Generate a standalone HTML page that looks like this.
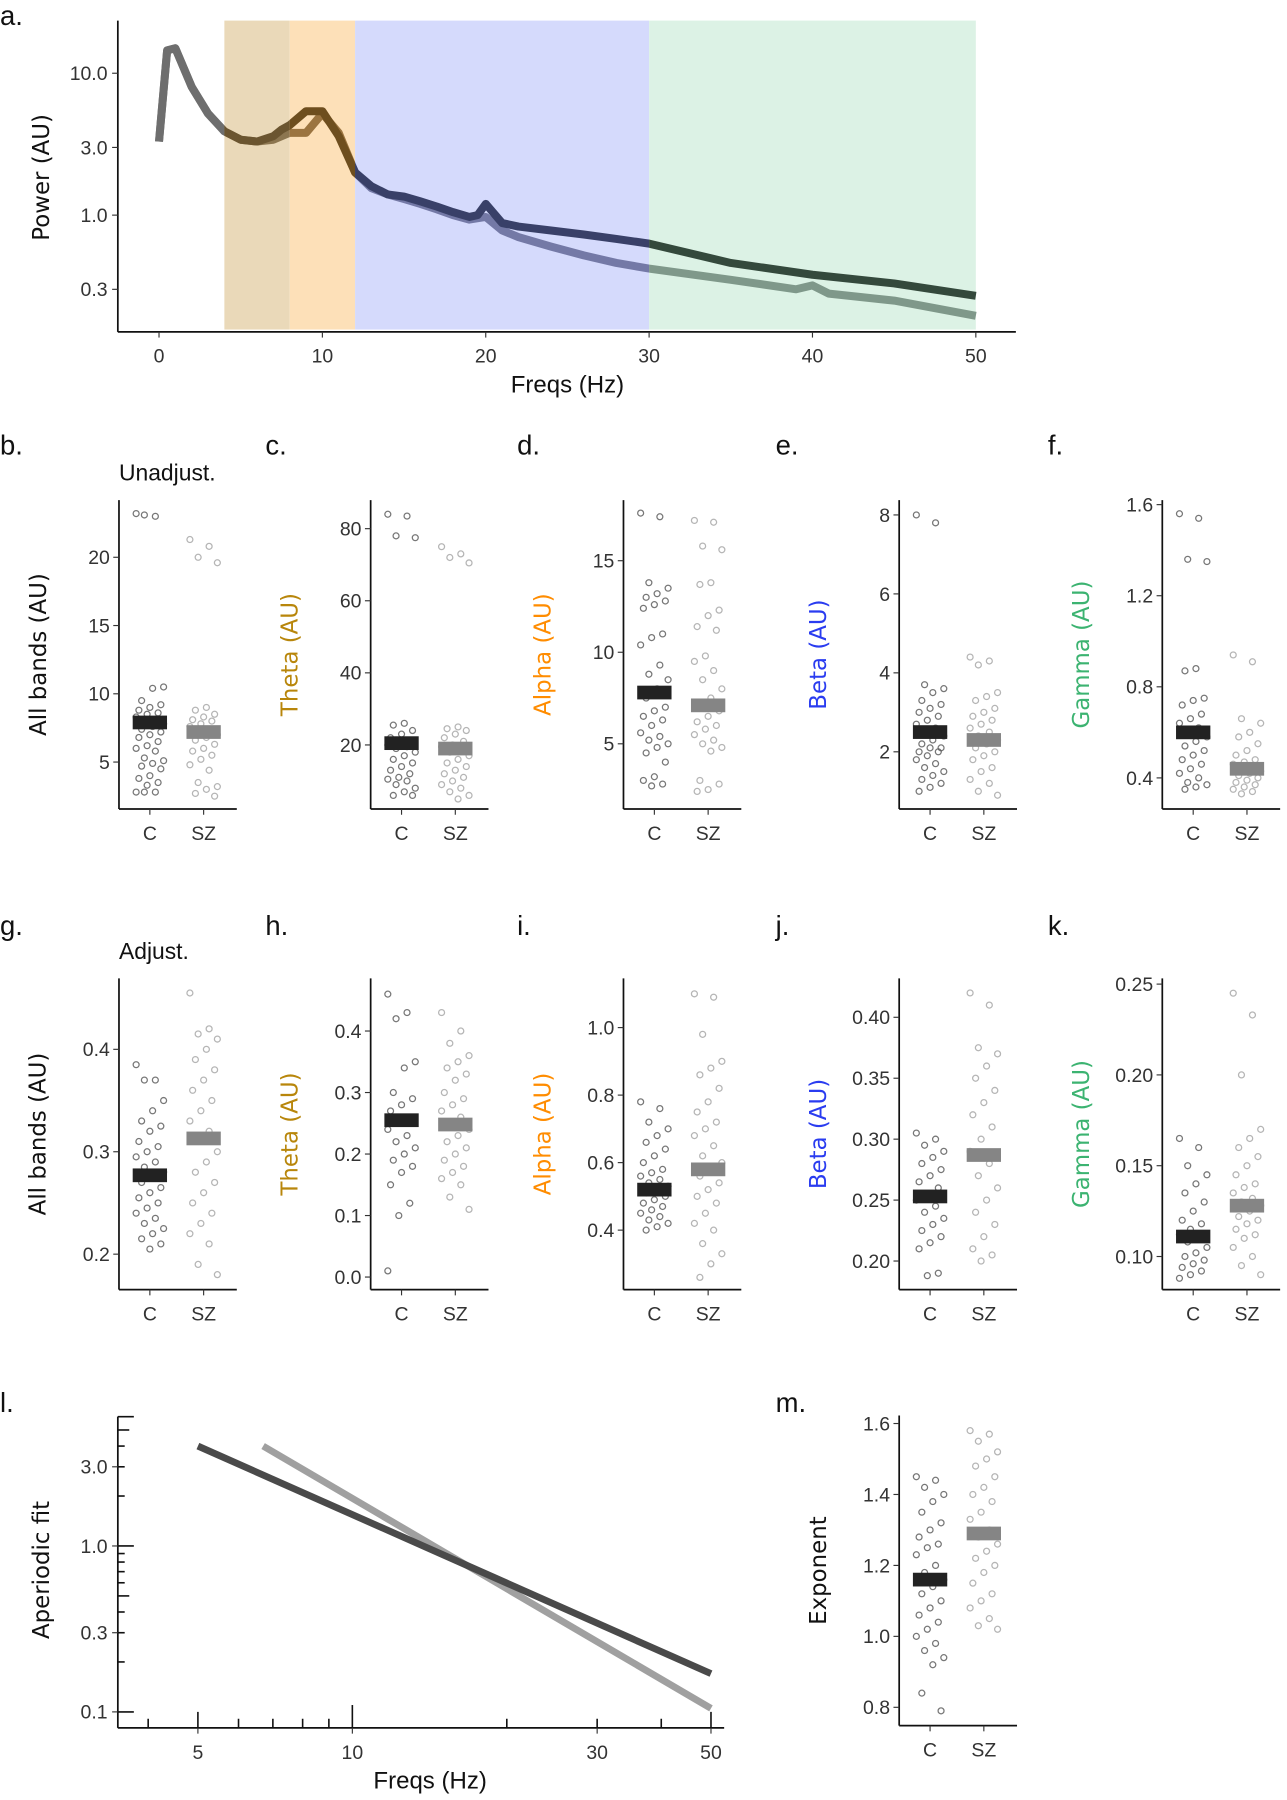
<!DOCTYPE html>
<html><head><meta charset="utf-8"><style>
html,body{margin:0;padding:0;background:#fff;}
svg{display:block;font-family:"Liberation Sans",sans-serif;}
</style></head><body>
<svg id="fig" width="1287" height="1800" viewBox="0 0 1125 1573" preserveAspectRatio="none" xmlns="http://www.w3.org/2000/svg"></svg>
<script>
// ---------- Panel a data ----------
const freqsC = [0,0.5,1,2,3,4,5,6,7,7.5,8,9,10,11,12,13,14,15,16,17,18,19,19.5,20,21,22,24,26,28,30,35,40,45,50];
const powerC = [3.3,14.5,15,8,5.2,3.9,3.4,3.3,3.6,4.0,4.3,5.4,5.4,3.6,2.0,1.6,1.4,1.35,1.25,1.15,1.05,0.97,1.0,1.2,0.88,0.83,0.78,0.73,0.68,0.63,0.46,0.38,0.33,0.27];
const freqsSZ = [0,0.5,1,2,3,4,5,6,7,8,9,10,11,12,13,14,15,16,17,18,19,20,21,22,24,26,28,30,35,39,40,41,45,50];
const powerSZ = [3.3,14.5,15,8,5.2,3.9,3.4,3.3,3.4,3.8,3.8,5.2,3.8,2.0,1.55,1.4,1.3,1.2,1.1,1.0,0.93,0.97,0.78,0.7,0.6,0.52,0.46,0.42,0.35,0.3,0.32,0.28,0.25,0.195];
const bandNames = ['theta','alpha','beta','gamma'];
const bandLo = [4,8,12,30];
const bandHi = [8,12,30,50];
const aYTicks = [10,3,1,0.3];
const aYTickLabels = ['10.0','3.0','1.0','0.3'];
const aXTicks = [0,10,20,30,40,50];

// ---------- Scatter panels data ----------
const groups = ['C','SZ'];
const bC=[23.2,23,23.1,10.5,10.4,9.5,9.2,9,8.8,8.6,8.5,8.3,8.1,8,7.8,7.6,7.4,7.2,7,6.8,6.5,6.2,6,5.8,5.3,5.1,4.9,4.7,4.5,4,3.8,3.5,3.3,2.8,2.8,2.8];
const bSZ=[21.3,20.8,20,19.6,9,8.8,8.5,8.3,8.1,8,7.8,7.6,7.4,7.2,7,6.8,6.6,6.3,6,5.8,5.5,5.2,4.8,4.4,3.5,3.2,3,2.7,2.5];
const cC=[84,83.5,78,77.5,26,25.5,24,23,22,21,20.5,20,19.5,19,18,17,16,15,14,13,12,11,10.5,10,9,8,7,6,6];
const cSZ=[75,73,72,70.5,25,24.5,24,23,22,21,20,19.5,19,18,17,16,15,14,13,12,11,10,9,8,7,6,5];
const dC=[17.6,17.4,13.8,13.5,13.2,13,12.8,12.6,12.4,11,10.8,10.4,9.3,8.8,8.5,8,7.5,7,6.8,6.5,6.3,6,5.6,5.4,5.2,5,4.8,4.5,4,3.2,3,2.8,2.7];
const dSZ=[17.2,17.1,15.8,15.6,13.8,13.7,12.3,12,11.4,11.2,9.8,9.5,9,8.5,8,7.5,7,6.8,6.5,6.2,6,5.8,5.5,5.2,5,4.8,4.6,3,2.8,2.5,2.4];
const eC=[8,7.8,3.7,3.6,3.5,3.3,3.2,3.1,3,2.9,2.8,2.7,2.6,2.5,2.4,2.3,2.2,2.1,2.1,2,2,1.9,1.8,1.7,1.6,1.5,1.4,1.3,1.2,1.1,1.0];
const eSZ=[4.4,4.3,4.2,3.5,3.4,3.3,3.1,3,2.9,2.8,2.7,2.6,2.5,2.4,2.3,2.2,2.1,2,1.9,1.8,1.6,1.5,1.3,1.2,1.0,0.9];
const fC=[1.56,1.54,1.36,1.35,0.88,0.87,0.75,0.74,0.72,0.68,0.66,0.64,0.62,0.6,0.58,0.56,0.54,0.52,0.5,0.48,0.46,0.44,0.42,0.4,0.38,0.37,0.36,0.35];
const fSZ=[0.94,0.91,0.66,0.64,0.6,0.58,0.55,0.52,0.5,0.48,0.47,0.46,0.45,0.44,0.43,0.42,0.41,0.4,0.39,0.38,0.37,0.36,0.35,0.34,0.33];
const gC=[.385,.37,.37,.35,.34,.33,.325,.32,.31,.305,.3,.295,.29,.285,.28,.275,.27,.265,.26,.255,.25,.245,.24,.235,.23,.225,.22,.215,.21,.205];
const gSZ=[.455,.42,.415,.41,.4,.39,.38,.37,.36,.35,.34,.33,.32,.31,.3,.29,.28,.27,.26,.25,.24,.23,.22,.21,.19,.18];
const hC=[.46,.43,.42,.35,.34,.3,.29,.28,.27,.26,.25,.24,.23,.22,.21,.2,.19,.18,.17,.15,.12,.1,.01];
const hSZ=[.43,.4,.38,.36,.35,.34,.33,.32,.3,.29,.28,.27,.26,.25,.24,.23,.22,.21,.2,.19,.18,.17,.16,.15,.13,.11];
const iC=[.78,.76,.72,.7,.68,.66,.64,.62,.6,.58,.57,.56,.55,.54,.53,.52,.51,.5,.49,.48,.47,.46,.45,.44,.43,.42,.41,.4];
const iSZ=[1.1,1.09,.98,.9,.88,.86,.82,.78,.75,.72,.7,.68,.65,.62,.6,.58,.56,.54,.52,.5,.48,.45,.42,.4,.36,.33,.3,.26];
const jC=[.305,.3,.295,.29,.285,.28,.275,.27,.265,.26,.255,.25,.245,.24,.235,.23,.225,.22,.215,.21,.19,.188];
const jSZ=[.42,.41,.375,.37,.36,.35,.34,.33,.32,.31,.3,.29,.28,.27,.26,.25,.24,.23,.22,.21,.205,.2];
const kC=[.165,.16,.15,.145,.14,.135,.13,.125,.12,.118,.115,.112,.11,.108,.105,.102,.1,.098,.096,.094,.092,.09,.088];
const kSZ=[.245,.233,.2,.17,.165,.16,.155,.15,.145,.14,.138,.135,.132,.13,.128,.125,.122,.12,.118,.115,.112,.11,.105,.1,.095,.09];
const mC=[1.45,1.44,1.42,1.4,1.38,1.35,1.32,1.3,1.28,1.26,1.25,1.23,1.2,1.18,1.16,1.14,1.12,1.1,1.08,1.06,1.04,1.02,1.0,.98,.96,.94,.92,.84,.79];
const mSZ=[1.58,1.57,1.55,1.52,1.5,1.48,1.45,1.42,1.4,1.38,1.35,1.33,1.3,1.28,1.26,1.24,1.22,1.2,1.18,1.15,1.12,1.1,1.08,1.05,1.03,1.02];
const meansB=[7.9,7.2], meansC=[20.5,19], meansD=[7.8,7.1], meansE=[2.5,2.3], meansF=[0.6,0.44];
const meansG=[.277,.313], meansH=[.255,.248], meansI=[.52,.58], meansJ=[.253,.287], meansK=[.111,.128], meansM=[1.16,1.29];
const ticksB=[5,10,15,20], ticksC=[20,40,60,80], ticksD=[5,10,15], ticksE=[2,4,6,8], ticksF=[0.4,0.8,1.2,1.6];
const ticksG=[0.2,0.3,0.4], ticksH=[0,0.1,0.2,0.3,0.4], ticksI=[0.4,0.6,0.8,1.0], ticksJ=[0.2,0.25,0.3,0.35,0.4], ticksK=[0.1,0.15,0.2,0.25], ticksM=[0.8,1.0,1.2,1.4,1.6];
const labB=['5','10','15','20'], labC=['20','40','60','80'], labD=['5','10','15'], labE=['2','4','6','8'], labF=['0.4','0.8','1.2','1.6'];
const labG=['0.2','0.3','0.4'], labH=['0.0','0.1','0.2','0.3','0.4'], labI=['0.4','0.6','0.8','1.0'], labJ=['0.20','0.25','0.30','0.35','0.40'], labK=['0.10','0.15','0.20','0.25'], labM=['0.8','1.0','1.2','1.4','1.6'];

// ---------- Panel l data ----------
const fitFreqC=[5,50], fitValC=[4.0,0.17];
const fitFreqSZ=[6.7,50], fitValSZ=[4.0,0.105];
const lXTicks=[5,10,30,50], lYTicks=[3,1,0.3,0.1], lYLab=['3.0','1.0','0.3','0.1'];

const NS='http://www.w3.org/2000/svg';
const svg=document.getElementById('fig');
const TITLEFONT='"DejaVu Sans","Liberation Sans",sans-serif';
function el(tag,attrs,parent){const e=document.createElementNS(NS,tag);for(const k in attrs)e.setAttribute(k,attrs[k]);(parent||svg).appendChild(e);return e;}
function txt(s,x,y,size,anchor,fill,rot,parent,font){const t=el('text',{x:x,y:y,'font-size':size,'text-anchor':anchor||'start',fill:fill||'#222'},parent);if(font)t.setAttribute('font-family',font);if(rot)t.setAttribute('transform','rotate(-90 '+x+' '+y+')');t.textContent=s;return t;}

// ---------- Panel a ----------
const ga=el('g',{});


const ax=f=>139+f*14.28, ay=v=>188-124*Math.log10(v);
const bandColors=['#ead9b9','#fde0b8','#d5dafc','#dcf2e5'];
bandNames.forEach((b,i)=>{const r=el('rect',{x:ax(bandLo[i]),y:18,width:ax(bandHi[i])-ax(bandLo[i]),height:270,fill:bandColors[i]},ga);

});
const defs=el('defs',{});
const segLo=[-5,4,8,12,30], segHi=[4,8,12,30,55];
segLo.forEach((lo,i)=>{const cp=el('clipPath',{id:'seg'+i},defs);el('rect',{x:ax(lo),y:0,width:ax(segHi[i])-ax(lo),height:300},cp);});
const colC=['#6e6e6e','#6b5530','#6e4e1e','#394068','#34493c'];
const colSZ=['#7a7a7a','#8c7650','#9b7440','#7479a6','#7f988a'];
function pathOf(fs,vs){return fs.map((f,i)=>(i?'L':'M')+ax(f).toFixed(1)+' '+ay(vs[i]).toFixed(1)).join(' ');}
[[freqsSZ,powerSZ,colSZ,'sz'],[freqsC,powerC,colC,'c']].forEach(([fs,vs,cols,nm])=>{
 segLo.forEach((lo,i)=>{const p=el('path',{d:pathOf(fs,vs),fill:'none',stroke:cols[i],'stroke-width':7,'stroke-linejoin':'round','clip-path':'url(#seg'+i+')'},ga);
 
 });
});
el('line',{x1:103,y1:18,x2:103,y2:290,stroke:'#111','stroke-width':1.5},ga);
el('line',{x1:103,y1:290,x2:888,y2:290,stroke:'#111','stroke-width':1.5},ga);
aYTicks.forEach((v,i)=>{el('line',{x1:98,x2:103,y1:ay(v),y2:ay(v),stroke:'#333'},ga);txt(aYTickLabels[i],94,ay(v)+6,17,'end','#333',0,ga);});
aXTicks.forEach(v=>{el('line',{x1:ax(v),x2:ax(v),y1:290,y2:295,stroke:'#333'},ga);txt(String(v),ax(v),317,17,'middle','#333',0,ga);});
txt('Power (AU)',43,155,20,'middle','#111',1,ga,TITLEFONT);
txt('Freqs (Hz)',496,343,21,'middle','#111',0,ga);
txt('a.',0,22,24,'start','#111',0,ga);

// ---------- Scatter panels ----------
function scatterPanel(name,ox,bottom,top,tickVals,tickLabs,y0val,y0px,pxPerUnit,dataC,dataSZ,means,title,titleColor){
 const g=el('g',{});
 
 
 const sy=v=>y0px-(v-y0val)*pxPerUnit;
 const xs=[ox+27,ox+74];
 [dataC,dataSZ].forEach((arr,gi)=>{
  arr.forEach((v,i)=>{const jit=(((i*7)%11)-5)*2.4;
   const c=el('circle',{cx:xs[gi]+jit,cy:sy(v),r:2.6,fill:'none',stroke:gi?'#a8a8a8':'#555','stroke-width':1.1,opacity:gi?0.85:0.8},g);
   
   });
 });
 means.forEach((m,gi)=>{const r=el('rect',{x:xs[gi]-15,y:sy(m)-6,width:30,height:12,fill:gi?'#858585':'#222'},g);
  
  });
 el('line',{x1:ox,y1:top,x2:ox,y2:bottom,stroke:'#111','stroke-width':1.5},g);
 el('line',{x1:ox,y1:bottom,x2:ox+103,y2:bottom,stroke:'#111','stroke-width':1.5},g);
 tickVals.forEach((v,i)=>{el('line',{x1:ox-5,x2:ox,y1:sy(v),y2:sy(v),stroke:'#333'},g);txt(tickLabs[i],ox-8,sy(v)+6,17,'end','#333',0,g);});
 groups.forEach((gr,i)=>{el('line',{x1:xs[i],x2:xs[i],y1:bottom,y2:bottom+5,stroke:'#333'},g);txt(gr,xs[i],bottom+27,17,'middle','#333',0,g);});
 txt(title,ox-64,(top+bottom)/2,20,'middle',titleColor,1,g,TITLEFONT);
}
const r1b=707,r1t=437,r2b=1127,r2t=855;
scatterPanel('b-all-unadj',104,r1b,r1t,ticksB,labB,20,487,11.93,bC,bSZ,meansB,'All bands (AU)','#111');
scatterPanel('c-theta-unadj',324,r1b,r1t,ticksC,labC,80,462,3.15,cC,cSZ,meansC,'Theta (AU)','#b8860b');
scatterPanel('d-alpha-unadj',545,r1b,r1t,ticksD,labD,15,490,16,dC,dSZ,meansD,'Alpha (AU)','#ff8c00');
scatterPanel('e-beta-unadj',786,r1b,r1t,ticksE,labE,8,450,34.5,eC,eSZ,meansE,'Beta (AU)','#2a3cf0');
scatterPanel('f-gamma-unadj',1016,r1b,r1t,ticksF,labF,1.6,441,199,fC,fSZ,meansF,'Gamma (AU)','#3cb371');
scatterPanel('g-all-adj',104,r2b,r2t,ticksG,labG,0.4,917,895,gC,gSZ,meansG,'All bands (AU)','#111');
scatterPanel('h-theta-adj',324,r2b,r2t,ticksH,labH,0.4,901,537.5,hC,hSZ,meansH,'Theta (AU)','#b8860b');
scatterPanel('i-alpha-adj',545,r2b,r2t,ticksI,labI,1.0,898,295,iC,iSZ,meansI,'Alpha (AU)','#ff8c00');
scatterPanel('j-beta-adj',786,r2b,r2t,ticksJ,labJ,0.4,889,1065,jC,jSZ,meansJ,'Beta (AU)','#2a3cf0');
scatterPanel('k-gamma-adj',1016,r2b,r2t,ticksK,labK,0.25,860,1587,kC,kSZ,meansK,'Gamma (AU)','#3cb371');
scatterPanel('m-exponent',786,1508,1237,ticksM,labM,1.6,1244,310,mC,mSZ,meansM,'Exponent','#111');

const letters=[['b.',0,397],['c.',232,397],['d.',452,397],['e.',678,397],['f.',916,397],['g.',0,817],['h.',232,817],['i.',452,817],['j.',678,817],['k.',916,817],['l.',0,1234],['m.',678,1234]];
letters.forEach(l=>{const t=txt(l[0],l[1],l[2],24,'start','#111');});
txt('Unadjust.',104,420,20,'start','#111');
txt('Adjust.',104,838,20,'start','#111');

// ---------- Panel l ----------
const gl=el('g',{});


const lx=f=>308+448.5*Math.log10(f/10), ly=v=>1351-145*Math.log10(v);
[[fitFreqSZ,fitValSZ,'#a0a0a0','sz'],[fitFreqC,fitValC,'#4a4a4a','c']].forEach(([fs,vs,col,nm])=>{
 const p=el('line',{x1:lx(fs[0]),y1:ly(vs[0]),x2:lx(fs[1]),y2:ly(vs[1]),stroke:col,'stroke-width':6},gl);
 
 
});
el('line',{x1:103,y1:1238,x2:103,y2:1510,stroke:'#111','stroke-width':1.5},gl);
el('line',{x1:103,y1:1510,x2:633,y2:1510,stroke:'#111','stroke-width':1.5},gl);
[4,5,6,7,8,9,10,20,30,40,50].forEach(f=>{const L=(f==5||f==50)?14:(f==10?20:8);el('line',{x1:lx(f),x2:lx(f),y1:1510,y2:1510-L,stroke:'#111','stroke-width':1.4},gl);});
[0.1,0.2,0.3,0.4,0.5,0.6,0.7,0.8,0.9,1,2,3,4,5].forEach(v=>{const L=(v==0.1||v==1)?14:((v==0.5||v==5)?10:6);el('line',{x1:103,x2:103+L,y1:ly(v),y2:ly(v),stroke:'#111','stroke-width':1.4},gl);});
el('line',{x1:103,x2:117,y1:1238,y2:1238,stroke:'#111','stroke-width':1.4},gl);
lYTicks.forEach((v,i)=>{el('line',{x1:98,x2:103,y1:ly(v),y2:ly(v),stroke:'#333'},gl);txt(lYLab[i],94,ly(v)+6,17,'end','#333',0,gl);});
lXTicks.forEach(f=>{el('line',{x1:lx(f),x2:lx(f),y1:1510,y2:1515,stroke:'#333'},gl);txt(String(f),lx(f),1537,17,'middle','#333',0,gl);});
txt('Aperiodic fit',43,1372,20,'middle','#111',1,gl,TITLEFONT);
txt('Freqs (Hz)',376,1563,21,'middle','#111',0,gl);
</script>
</body></html>
